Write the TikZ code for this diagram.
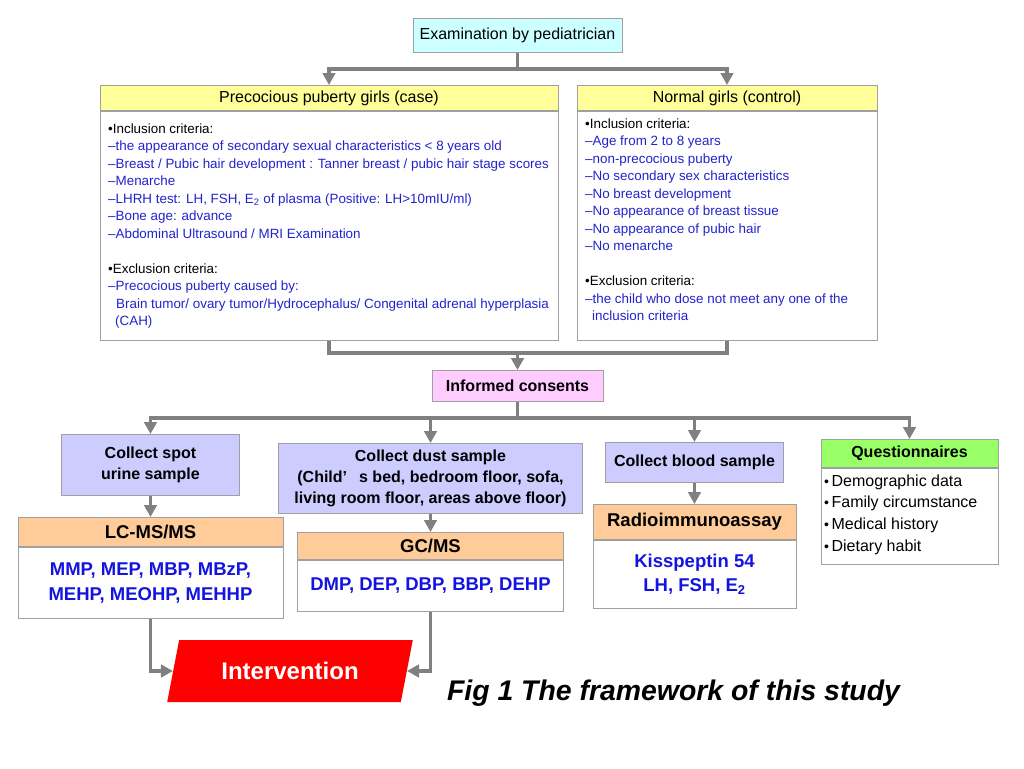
\documentclass[tikz,border=0pt]{standalone}
\usepackage{fontspec}
\setmainfont{Liberation Sans}
\usetikzlibrary{arrows.meta,shapes.geometric}
\definecolor{cyanf}{HTML}{CCFFFF}
\definecolor{yelf}{HTML}{FFFF99}
\definecolor{pinkf}{HTML}{FFCCFF}
\definecolor{lavf}{HTML}{CCCCFF}
\definecolor{orgf}{HTML}{FFCC99}
\definecolor{grnf}{HTML}{99FF66}
\definecolor{bdr}{HTML}{A0A0A0}
\definecolor{connc}{HTML}{808080}
\definecolor{tblue}{RGB}{35,35,205}
\definecolor{bblue}{RGB}{20,20,225}
\newcommand\hdrf{\fontsize{16}{19}\selectfont}
\newcommand\bodyf{\fontsize{13.4}{17.5}\selectfont}
\newcommand\colf{\fontsize{16}{21.5}\selectfont\bfseries}
\newcommand\bigbf{\fontsize{18.5}{25}\selectfont\bfseries}
\newcommand\qbul{{\fontsize{14}{14}\selectfont •}\hspace{2.5pt}}
\tikzset{
  box/.style={draw=bdr, line width=0.9pt, inner sep=0pt, anchor=north},
  txt/.style={inner sep=0pt, align=left, anchor=north west, font=\bodyf},
  ln/.style={draw=connc, line width=3.5pt},
  arr/.style={ln, -{Triangle[width=12.5pt,length=12pt]}},
}
\begin{document}
\begin{tikzpicture}[x=1pt,y=-1pt]
\useasboundingbox[fill=white] (0,0) rectangle (1024,768);
% top
\node[box, fill=cyanf, minimum width=209pt, minimum height=34pt, font=\hdrf] (exam) at (517.5,18) {Examination by pediatrician};
% case
\node[box, fill=yelf, minimum width=458pt, minimum height=25pt, font=\hdrf] (caseh) at (329,85) {Precocious puberty girls (case)};
\node[box, fill=white, minimum width=458pt, minimum height=229pt] (caseb) at (caseh.south) {};
\node[txt] (casetxt) at (108,123.3) {%
•Inclusion criteria:\\
\textcolor{tblue}{–the appearance of secondary sexual characteristics < 8 years old}\\
\textcolor{tblue}{–Breast / Pubic hair development : Tanner breast / pubic hair stage scores}\\
\textcolor{tblue}{–Menarche}\\
\textcolor{tblue}{–LHRH test: LH, FSH, E\textsubscript{2} of plasma (Positive: LH>10mIU/ml)}\\
\textcolor{tblue}{–Bone age: advance}\\
\textcolor{tblue}{–Abdominal Ultrasound / MRI Examination}\\
\mbox{}\\
•Exclusion criteria:\\
\textcolor{tblue}{–Precocious puberty caused by:}\\
\textcolor{tblue}{\hspace{8pt}Brain tumor/ ovary tumor/Hydrocephalus/ Congenital adrenal hyperplasia}\\
\textcolor{tblue}{\hspace{7pt}(CAH)}};
% control
\node[box, fill=yelf, minimum width=300pt, minimum height=25pt, font=\hdrf] (ctrlh) at (727,85) {Normal girls (control)};
\node[box, fill=white, minimum width=300pt, minimum height=229pt] (ctrlb) at (ctrlh.south) {};
\node[txt] (ctrltxt) at (585,118.3) {%
•Inclusion criteria:\\
\textcolor{tblue}{–Age from 2 to 8 years}\\
\textcolor{tblue}{–non-precocious puberty}\\
\textcolor{tblue}{–No secondary sex characteristics}\\
\textcolor{tblue}{–No breast development}\\
\textcolor{tblue}{–No appearance of breast tissue}\\
\textcolor{tblue}{–No appearance of pubic hair}\\
\textcolor{tblue}{–No menarche}\\
\mbox{}\\
•Exclusion criteria:\\
\textcolor{tblue}{–the child who dose not meet any one of the}\\
\textcolor{tblue}{\hspace{7pt}inclusion criteria}};
% consents
\node[box, fill=pinkf, minimum width=171pt, minimum height=31pt, font=\colf] (cons) at (517.5,370) {Informed consents};
% second row
\node[box, fill=lavf, minimum width=178pt, minimum height=61pt, font=\colf, align=center] (urine) at (150.5,434) {Collect spot\\urine sample};
\node[box, fill=lavf, minimum width=304pt, minimum height=70pt, font=\fontsize{16}{21}\selectfont\bfseries, align=center] (dust) at (430.5,443) {Collect dust sample\\(Child’\hspace{0.75em}s bed, bedroom floor, sofa,\\living room floor, areas above floor)};
\node[box, fill=lavf, minimum width=178pt, minimum height=40pt, font=\colf] (blood) at (694.5,442) {Collect blood sample};
\node[box, fill=grnf, minimum width=177pt, minimum height=28pt, font=\colf] (questh) at (909.5,439) {Questionnaires};
\node[box, fill=white, minimum width=177pt, minimum height=96pt] (questb) at (questh.south) {};
\node[inner sep=0pt, align=left, anchor=west, font=\fontsize{16}{21.6}\selectfont] (qlist) at (824,514.5) {%
\qbul Demographic data\\
\qbul Family circumstance\\
\qbul Medical history\\
\qbul Dietary habit};
% third row
\node[box, fill=orgf, minimum width=265pt, minimum height=29pt, font=\bigbf] (lch) at (150.5,517) {LC-MS/MS};
\node[box, fill=white, minimum width=265pt, minimum height=71pt, font=\bigbf, text=bblue, align=center] (lcb) at (lch.south) {MMP, MEP, MBP, MBzP,\\MEHP, MEOHP, MEHHP};
\node[box, fill=orgf, minimum width=266pt, minimum height=27pt, font=\bigbf] (gch) at (430.5,532) {GC/MS};
\node[box, fill=white, minimum width=266pt, minimum height=51pt, font=\bigbf, text=bblue] (gcb) at (gch.south) {DMP, DEP, DBP, BBP, DEHP};
\node[box, fill=orgf, minimum width=203pt, minimum height=35pt, font=\bigbf] (radh) at (694.5,504) {Radioimmunoassay};
\node[box, fill=white, minimum width=203pt, minimum height=68pt, font=\fontsize{18.5}{24}\selectfont\bfseries, text=bblue, align=center] (radb) at (radh.south) {Kisspeptin 54\\LH, FSH, E\textsubscript{2}};
% intervention
\node[trapezium, trapezium left angle=67.2, trapezium right angle=112.8, trapezium stretches=true, minimum width=246pt, minimum height=62pt, fill=red, inner sep=0pt, text=white, font=\fontsize{24}{28}\selectfont\bfseries] (intv) at (290,671) {Intervention};
\node[inner sep=0pt, font=\fontsize{28.4}{32}\selectfont\bfseries\itshape] (cap) at (673.5,693) {Fig 1 The framework of this study};
% connectors
\draw[ln] (exam.south) -- ++(0,16) coordinate (j1);
\draw[arr] (j1) -| (caseh.north);
\draw[arr] (j1) -| (ctrlh.north);
\draw[ln] (caseb.south) -- ++(0,12) coordinate (j2) -| (ctrlb.south);
\draw[arr] (j2 -| cons.north) -- (cons.north);
\draw[ln] (cons.south) -- ++(0,16) coordinate (j3);
\draw[arr] (j3) -| (urine.north);
\draw[arr] (j3) -| (questh.north);
\draw[arr] (j3 -| dust.north) -- (dust.north);
\draw[arr] (j3 -| blood.north) -- (blood.north);
\draw[arr] (urine.south) -- (lch.north);
\draw[arr] (dust.south) -- (gch.north);
\draw[arr] (blood.south) -- (radh.north);
\draw[arr] (lcb.south) |- (intv);
\draw[arr] (gcb.south) |- (intv);
\end{tikzpicture}
\end{document}
